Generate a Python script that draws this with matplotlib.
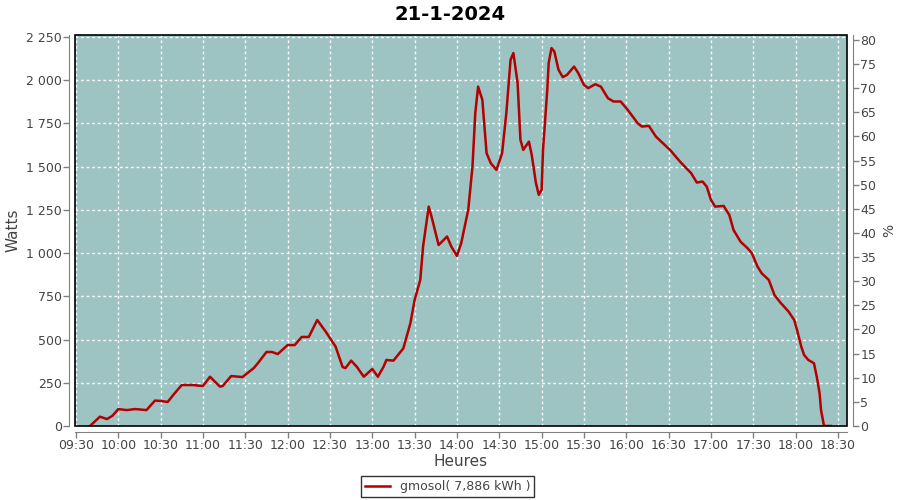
import matplotlib
matplotlib.use("Agg")
import matplotlib.pyplot as plt
import matplotlib.dates as mdates
from matplotlib.patches import Rectangle
from matplotlib.ticker import FuncFormatter, MultipleLocator
import pandas as pd

title = "21-1-2024"
series_label = "gmosol( 7,886 kWh )"

# time of each reading and power in watts
times = ["09:40", "09:47", "09:52", "09:56", "10:00", "10:06", "10:12", "10:20",
         "10:26", "10:30", "10:35", "10:40", "10:45", "10:53", "11:00", "11:05",
         "11:12", "11:14", "11:20", "11:28", "11:36", "11:39", "11:45", "11:49",
         "11:53", "12:00", "12:05", "12:10", "12:15", "12:21", "12:27", "12:30",
         "12:34", "12:39", "12:41", "12:45", "12:49", "12:54", "13:00", "13:04",
         "13:08", "13:10", "13:15", "13:22", "13:27", "13:30", "13:34", "13:36",
         "13:40", "13:42", "13:47", "13:53", "13:56", "14:00", "14:03", "14:08",
         "14:11", "14:13", "14:15", "14:18", "14:21", "14:24", "14:28", "14:32",
         "14:35", "14:38", "14:40", "14:43", "14:45", "14:47", "14:51", "14:53",
         "14:56", "14:58", "15:00", "15:01", "15:04", "15:05", "15:07", "15:09",
         "15:12", "15:15", "15:18", "15:23", "15:26", "15:30", "15:33", "15:38",
         "15:42", "15:47", "15:51", "15:56", "16:01", "16:08", "16:11", "16:16",
         "16:21", "16:31", "16:38", "16:46", "16:50", "16:54", "16:57", "17:00",
         "17:03", "17:09", "17:13", "17:16", "17:21", "17:26", "17:29", "17:33",
         "17:36", "17:41", "17:45", "17:49", "17:55", "17:59", "18:01", "18:04",
         "18:06", "18:09", "18:13", "18:15", "18:17", "18:18", "18:20", "18:21",
         "18:25"]
watts = [0, 54, 40, 60, 98, 92, 98, 92,
         147, 145, 139, 190, 237, 237, 231, 285,
         228, 231, 289, 283, 335, 364, 428, 428,
         416, 468, 468, 515, 515, 613, 546, 509,
         459, 341, 335, 378, 343, 285, 330, 285,
         343, 382, 378, 449, 594, 729, 845, 1038,
         1269, 1211, 1047, 1096, 1038, 984, 1057, 1250,
         1500, 1810, 1963, 1887, 1578, 1520, 1481, 1578,
         1810, 2118, 2157, 1983, 1655, 1597, 1645, 1568,
         1404, 1337, 1366, 1597, 1944, 2099, 2186, 2166,
         2060, 2018, 2031, 2079, 2041, 1973, 1954, 1977,
         1963, 1896, 1877, 1877, 1829, 1752, 1732, 1736,
         1674, 1597, 1530, 1462, 1408, 1414, 1385, 1308,
         1269, 1273, 1221, 1134, 1066, 1028, 999, 922,
         883, 845, 758, 716, 662, 613, 556, 459,
         411, 382, 363, 285, 189, 93, 6, 0,
         0]

t = pd.to_datetime(["2024-01-21 " + s for s in times])

fig = plt.figure(figsize=(9, 5), dpi=100)
ax = fig.add_axes([75 / 900, 74 / 500, 772 / 900, 391 / 500])
ax.set_facecolor("#9ec3c3")

ax.plot(t, watts, color="#b30000", linewidth=1.8, zorder=3)

ax.set_xlim(pd.Timestamp("2024-01-21 09:29:20"), pd.Timestamp("2024-01-21 18:36:25"))
ax.set_ylim(0, 2261.6)
ax.xaxis.set_major_locator(mdates.MinuteLocator(byminute=[0, 30]))
ax.xaxis.set_major_formatter(mdates.DateFormatter("%H:%M"))
ax.yaxis.set_major_locator(MultipleLocator(250))
ax.yaxis.set_major_formatter(FuncFormatter(lambda v, p: f"{int(v):,}".replace(",", " ")))

ax.grid(True, color="white", linestyle=(0, (2, 2)), linewidth=1)

ax2 = ax.twinx()
ax2.set_ylim(0, 81.0)
ax2.yaxis.set_major_locator(MultipleLocator(5))

for a in (ax, ax2):
    for s in a.spines.values():
        s.set_visible(False)
    a.tick_params(colors="#808080", labelcolor="#444444", labelsize=9,
                  length=4, width=1, pad=1.5)

ax.spines["left"].set_visible(True)
ax.spines["bottom"].set_visible(True)
ax.spines["left"].set_position(("outward", 4))
ax.spines["bottom"].set_position(("outward", 4))
ax2.spines["right"].set_visible(True)
ax2.spines["right"].set_position(("outward", 4))
for s in (ax.spines["left"], ax.spines["bottom"], ax2.spines["right"]):
    s.set_color("#808080")

ax.add_patch(Rectangle((0, 0), 1, 1, transform=ax.transAxes, fill=False,
                       edgecolor="black", linewidth=1.2, clip_on=False, zorder=5))

ax.set_ylabel("Watts", fontsize=11, color="#444444", labelpad=4)
ax.set_xlabel("Heures", fontsize=11, color="#444444", labelpad=1)
ax2.set_ylabel("%", fontsize=10, color="#444444", labelpad=4)
fig.suptitle(title, fontsize=14, fontweight="bold", y=0.99)

leg = fig.legend([ax.lines[0]], [series_label], loc="lower center",
                 bbox_to_anchor=(0.497, 0.0), fontsize=9, frameon=True,
                 fancybox=False, handlelength=2, borderpad=0.3,
                 borderaxespad=0.25)
leg.get_frame().set_edgecolor("black")
leg.get_frame().set_linewidth(1)
for txt in leg.get_texts():
    txt.set_color("#444444")

fig.savefig("out.png", dpi=100)
